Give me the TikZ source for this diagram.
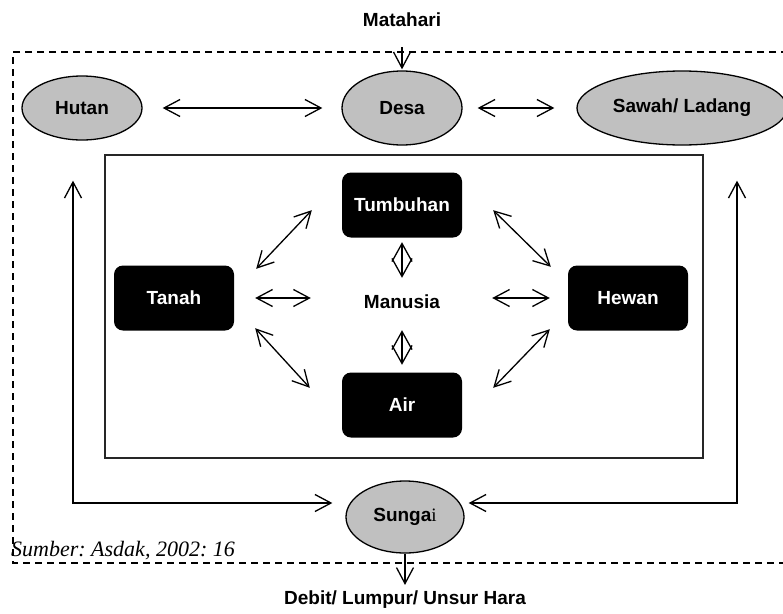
\documentclass[tikz,border=0pt]{standalone}
\usepackage{fontspec}
\setmainfont{Liberation Sans}
\newfontfamily\timesfont{Liberation Serif}
\usetikzlibrary{arrows.meta,calc,shapes.geometric}
\definecolor{placefill}{HTML}{C0C0C0}
\frenchspacing
\begin{document}
\begin{tikzpicture}[x=1pt,y=-1pt,
  labelfont/.style={font=\fontsize{19}{22}\selectfont\bfseries},
  place/.style={ellipse, draw=black, line width=1.3pt, fill=placefill,
    inner sep=0pt, labelfont},
  element/.style={rectangle, rounded corners=9pt, fill=black, text=white,
    minimum width=120pt, minimum height=65pt, inner sep=0pt, labelfont},
  plain/.style={inner sep=0pt, labelfont},
  tipV/.tip={Straight Barb[length=16pt 0, width=17pt 0]},
  tipD/.tip={Straight Barb[length=18pt 0, width=20pt 0]},
  biarrow/.style={line width=1.3pt, tipV-tipV},
  uniarrow/.style={line width=1.3pt, -tipV},
  diamarrow/.style={line width=1.3pt, tipD-tipD},
  boundary/.style={line width=1.3pt, dash pattern=on 7pt off 5pt},
  core/.style={line width=2pt, draw=black!85}]

\useasboundingbox (0,0) rectangle (783,613);

% system boundary (open to the right)
\draw[boundary] (800,52) -- (13,52) -- (13,563) -- (800,563);

% landscape units
\node[place, minimum width=120pt, minimum height=64pt] (hutan) at (82,108) {Hutan};
\node[place, minimum width=120pt, minimum height=74pt] (desa) at (402,108) {Desa};
\node[place, minimum width=210pt, minimum height=74pt] (sawah) at (682,108) {Sawah/ Ladang};
\node[place, minimum width=118pt, minimum height=72pt] (sungai) at (405,517)
  {Sunga{\timesfont\mdseries i}};

% inputs and outputs
\node[plain] (matahari) at (402,20) {Matahari};
\node[plain] (debit) at (405,600) {Debit/ Lumpur/ Unsur Hara};
\node[anchor=base west, inner sep=0pt,
  font=\timesfont\itshape\fontsize{22}{25}\selectfont] (sumber) at (11,556)
  {Sumber: Asdak, 2002: 16};

% ecosystem core
\draw[core] (105,155) rectangle (703,458);
\node[element] (tumbuhan) at (402,205) {Tumbuhan};
\node[element] (tanah) at (174,298) {Tanah};
\node[element] (hewan) at (628,298) {Hewan};
\node[element] (air) at (402,405) {Air};
\node[plain, minimum height=30pt] (manusia) at (402,302) {Manusia};

% links between landscape units
\draw[biarrow, shorten <=20pt, shorten >=19pt] (hutan.east) -- (desa.west);
\draw[biarrow, shorten <=15pt, shorten >=22pt] (desa.east) -- (sawah.west);
\draw[uniarrow, shorten <=20pt, shorten >=1pt] (matahari.south) -- (desa.north);
\draw[biarrow] ($(hutan.south)+(-9,40)$) |- ($(sungai.west)+(-13,-14)$);
\draw[biarrow] ($(sawah.south)+(55,35)$) |- ($(sungai.east)+(4,-14)$);
\draw[uniarrow, shorten >=6pt] (sungai.south) -- (debit.north);

% links inside the core
\draw[biarrow] ($(tanah.north east)+(22,3.5)$) -- ($(tumbuhan.south west)+(-30,-27.5)$);
\draw[biarrow] ($(tumbuhan.south east)+(31,-27.5)$) -- ($(hewan.north west)+(-17,1.5)$);
\draw[biarrow] ($(tanah.south east)+(21,-2.5)$) -- ($(air.north west)+(-32,15.5)$);
\draw[biarrow] ($(hewan.south west)+(-18,-1.5)$) -- ($(air.north east)+(31,15.5)$);
\draw[biarrow, shorten <=21pt, shorten >=53pt] (tanah.east) -- (tanah.east -| manusia.west);
\draw[biarrow, shorten <=52pt, shorten >=18pt] (hewan.west -| manusia.east) -- (hewan.west);
\draw[diamarrow, shorten <=4.5pt, shorten >=9pt] (tumbuhan.south) -- (manusia.north);
\draw[diamarrow, shorten <=13pt, shorten >=7.5pt] (manusia.south) -- (air.north);
\end{tikzpicture}
\end{document}
